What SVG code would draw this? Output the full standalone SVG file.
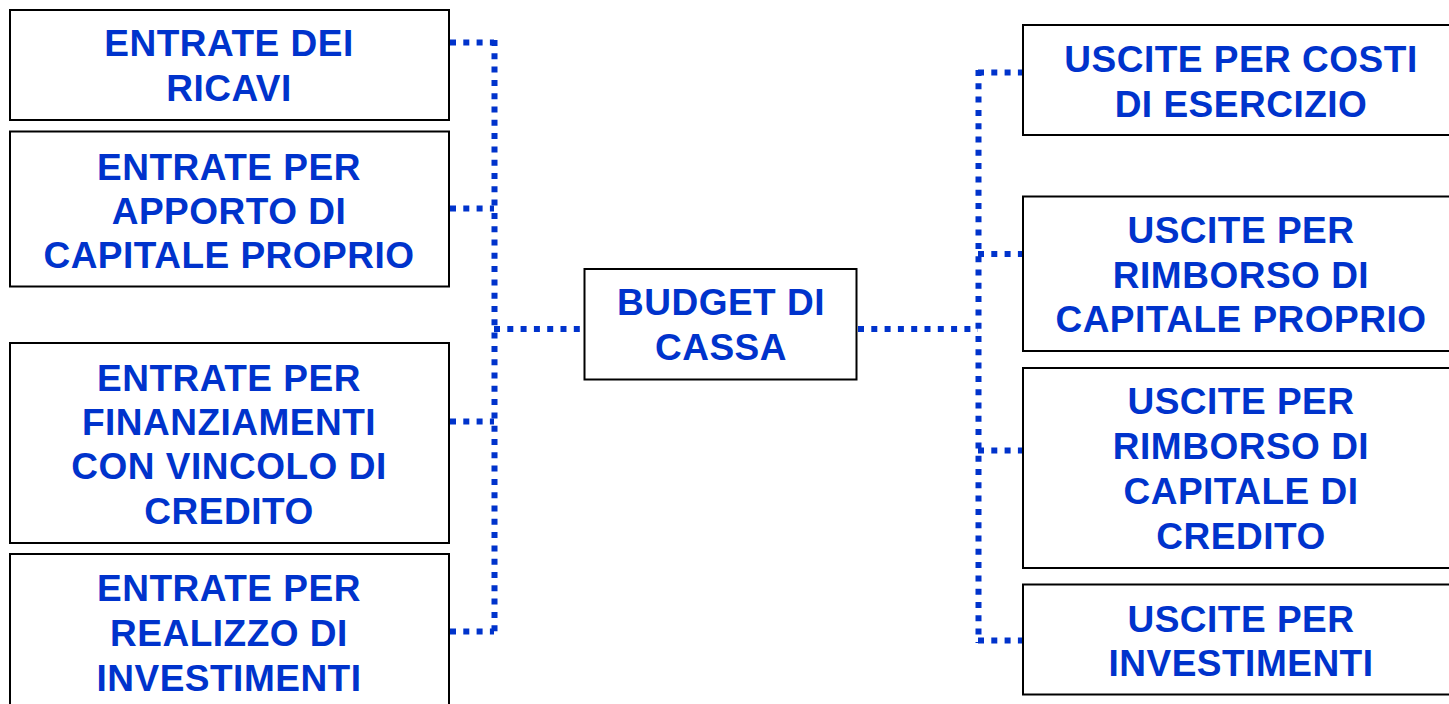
<svg xmlns="http://www.w3.org/2000/svg" width="1449" height="704" viewBox="0 0 1449 704">
<style>
.box{fill:#fff;stroke:#000;stroke-width:2}
.t{font-family:"Liberation Sans",Arial,sans-serif;font-weight:bold;font-size:37px;fill:#0033CC;text-anchor:middle;letter-spacing:0.5px}
.c{fill:none;stroke:#0033CC;stroke-width:6;stroke-dasharray:6 7.3}
</style>
<rect width="1449" height="704" fill="#fff"/>
<g id="connectors">
<path class="c" d="M450 42.5H494"/>
<path class="c" d="M450 208.5H494"/>
<path class="c" d="M450 421.5H494"/>
<path class="c" d="M450 631.5H494"/>
<path class="c" d="M494.5 40V634"/>
<path class="c" d="M494 329H584"/>
<path class="c" d="M858 329H978"/>
<path class="c" d="M978.5 70V643"/>
<path class="c" d="M978 72.5H1022"/>
<path class="c" d="M978 254H1022"/>
<path class="c" d="M978 450.5H1022"/>
<path class="c" d="M978 640.5H1022"/>
</g>
<g id="n-ricavi">
<rect class="box" x="10" y="10" width="439" height="110"/>
<text class="t" x="229" y="56">ENTRATE DEI</text>
<text class="t" x="229" y="101">RICAVI</text>
</g>
<g id="n-apporto">
<rect class="box" x="10" y="131.5" width="439" height="155"/>
<text class="t" x="229" y="180">ENTRATE PER</text>
<text class="t" x="229" y="224">APPORTO DI</text>
<text class="t" x="229" y="268">CAPITALE PROPRIO</text>
</g>
<g id="n-finanziamenti">
<rect class="box" x="10" y="343" width="439" height="200"/>
<text class="t" x="229" y="391">ENTRATE PER</text>
<text class="t" x="229" y="435">FINANZIAMENTI</text>
<text class="t" x="229" y="479">CON VINCOLO DI</text>
<text class="t" x="229" y="524">CREDITO</text>
</g>
<g id="n-realizzo">
<rect class="box" x="10" y="554" width="439" height="160"/>
<text class="t" x="229" y="601">ENTRATE PER</text>
<text class="t" x="229" y="646">REALIZZO DI</text>
<text class="t" x="229" y="691">INVESTIMENTI</text>
</g>
<g id="n-budget">
<rect class="box" x="584.5" y="269" width="272" height="110.5"/>
<text class="t" x="721" y="315">BUDGET DI</text>
<text class="t" x="721" y="360">CASSA</text>
</g>
<g id="n-costi">
<rect class="box" x="1023" y="25" width="440" height="110"/>
<text class="t" x="1241" y="72">USCITE PER COSTI</text>
<text class="t" x="1241" y="117">DI ESERCIZIO</text>
</g>
<g id="n-rimb-proprio">
<rect class="box" x="1023" y="196.5" width="440" height="154.5"/>
<text class="t" x="1241" y="243">USCITE PER</text>
<text class="t" x="1241" y="288">RIMBORSO DI</text>
<text class="t" x="1241" y="332">CAPITALE PROPRIO</text>
</g>
<g id="n-rimb-credito">
<rect class="box" x="1023" y="368" width="440" height="200"/>
<text class="t" x="1241" y="414">USCITE PER</text>
<text class="t" x="1241" y="459">RIMBORSO DI</text>
<text class="t" x="1241" y="504">CAPITALE DI</text>
<text class="t" x="1241" y="549">CREDITO</text>
</g>
<g id="n-investimenti">
<rect class="box" x="1023" y="584.5" width="440" height="110"/>
<text class="t" x="1241" y="632">USCITE PER</text>
<text class="t" x="1241" y="676">INVESTIMENTI</text>
</g>
</svg>
